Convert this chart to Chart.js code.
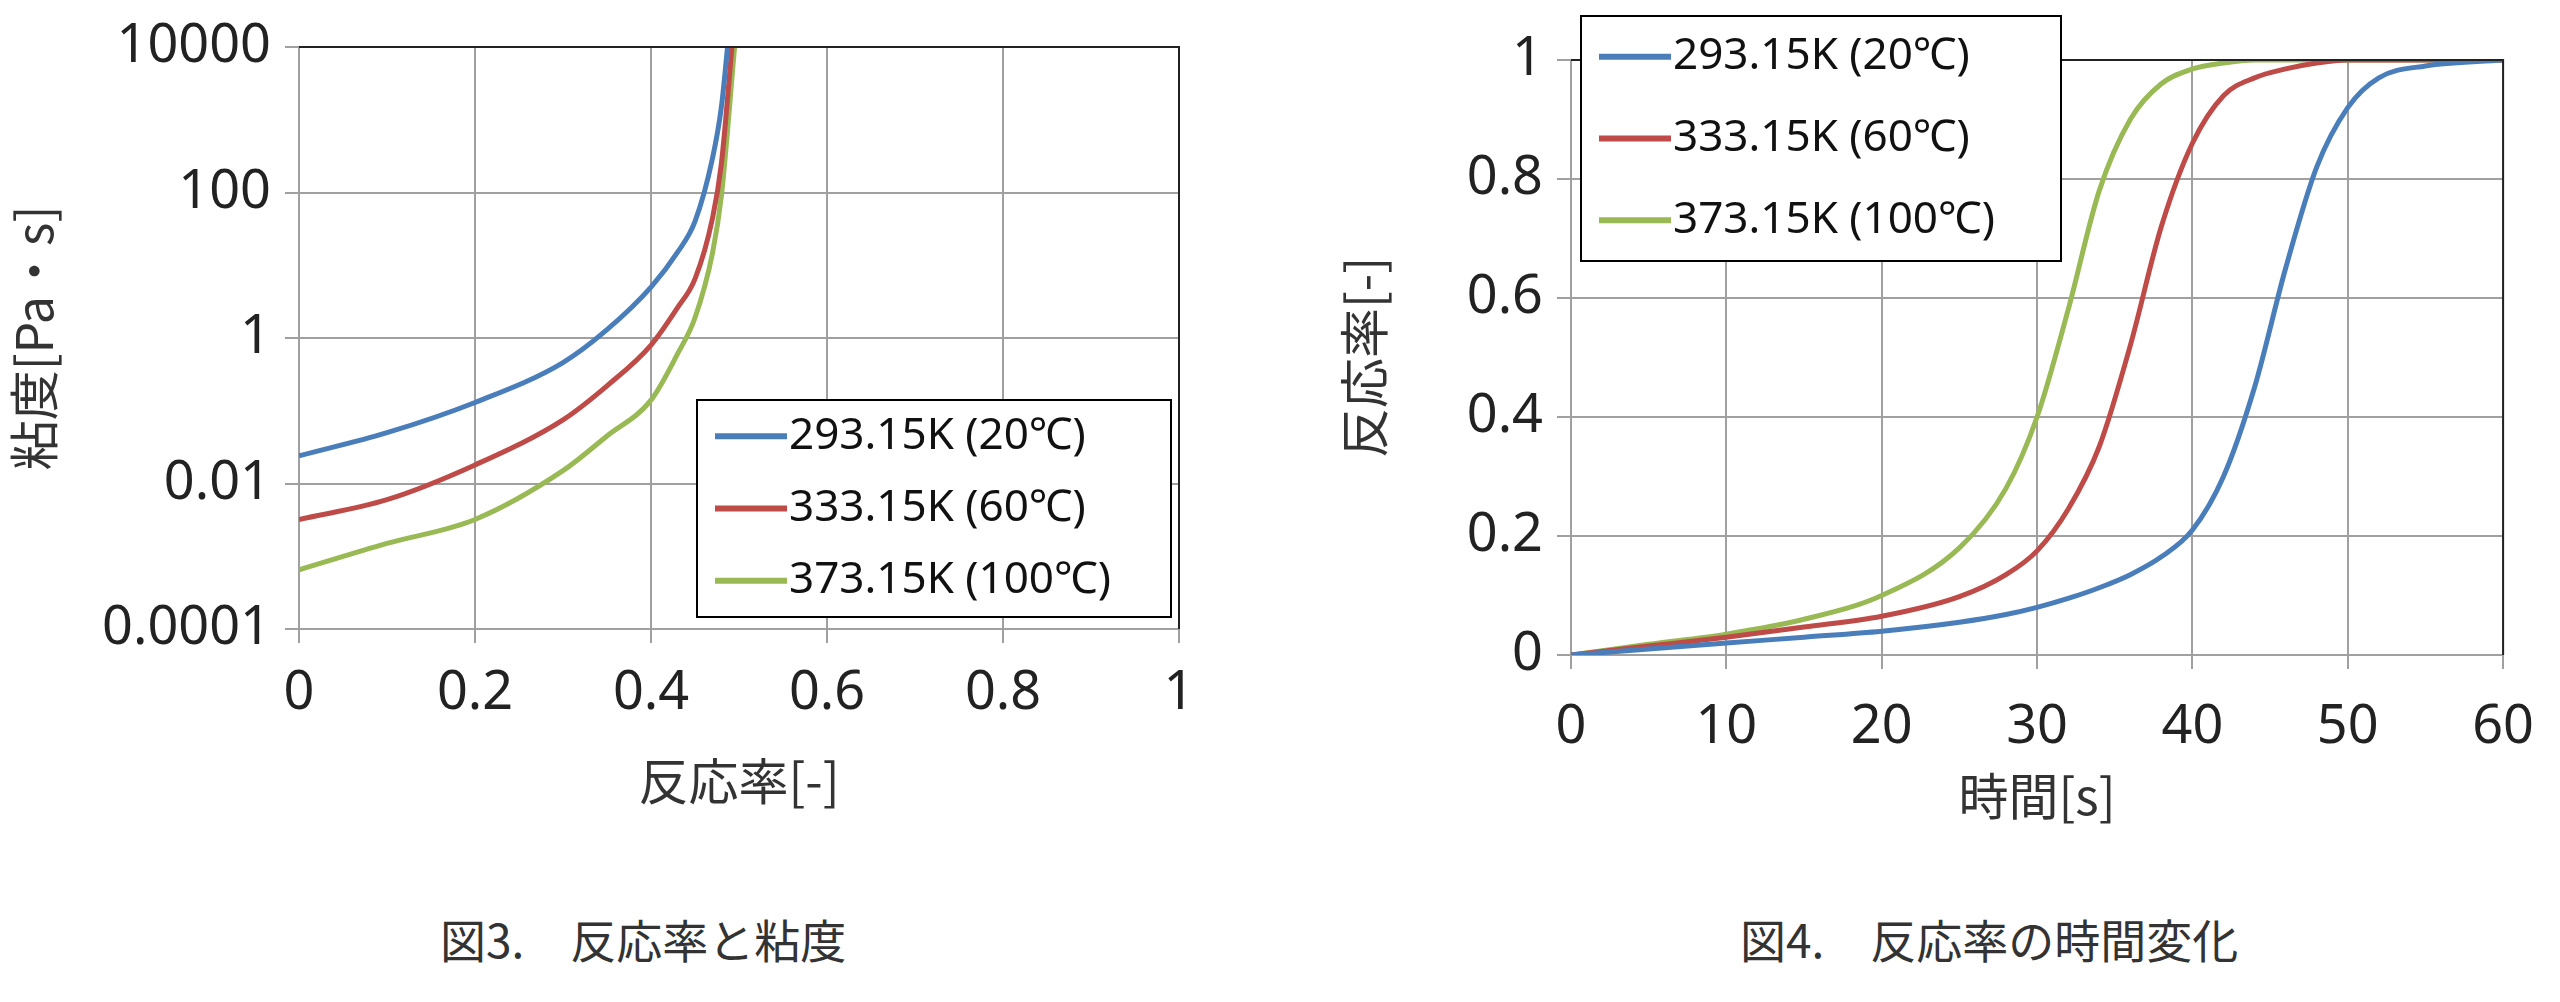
<!DOCTYPE html>
<html><head><meta charset="utf-8">
<script src="https://cdn.jsdelivr.net/npm/chart.js@4/dist/chart.umd.min.js"></script>
<style>
body{margin:0;width:2560px;height:1002px;background:#fff;position:relative;overflow:hidden;font-family:"Noto Sans CJK JP","Noto Sans",sans-serif}
#c1{position:absolute;left:0;top:0}
#c2{position:absolute;left:1330px;top:0}
.cap{position:absolute;top:905px;font-size:46px;color:#333;white-space:pre}
</style></head><body>
<canvas id="c1" width="1250" height="815"></canvas>
<canvas id="c2" width="1230" height="830"></canvas>
<div class="cap" style="left:440px">図3.　反応率と粘度</div>
<div class="cap" style="left:1740px">図4.　反応率の時間変化</div>
<script>
const seriesLabels = ['293.15K (20\u2103)', '333.15K (60\u2103)', '373.15K (100\u2103)'];
const colors = ['#4a7ebb', '#be4b48', '#98b954'];

// 図3: 反応率 vs 粘度 (log)
const conv1X = [[0,0.1,0.2,0.3,0.35,0.4,0.43,0.45,0.47,0.48,0.487],
                [0,0.1,0.2,0.3,0.35,0.4,0.43,0.45,0.47,0.48,0.492],
                [0,0.1,0.2,0.3,0.35,0.4,0.43,0.45,0.47,0.48,0.495]];
const viscBlue  = [0.024,0.05,0.13,0.46,1.3,5,15,40,300,1500,10000];
const viscRed   = [0.0032,0.006,0.018,0.075,0.22,0.8,2.6,6.5,45,250,10000];
const viscGreen = [0.00065,0.0015,0.0032,0.015,0.045,0.14,0.6,1.9,15,90,10000];
const logTicks = [0.0001,0.01,1,100,10000];

// 図4: 時間 vs 反応率
const timeX = [0,5,10,15,20,25,28,30,32,34,36,38,40,42,44,46,48,50,52,55,60];
const convBlue  = [0,0.01,0.02,0.03,0.04,0.055,0.068,0.08,0.095,0.113,0.135,0.165,0.21,0.3,0.45,0.65,0.82,0.92,0.97,0.99,1];
const convRed   = [0,0.015,0.03,0.047,0.065,0.098,0.135,0.175,0.245,0.35,0.52,0.72,0.86,0.94,0.97,0.985,0.995,1,1,1,1];
const convGreen = [0,0.018,0.035,0.06,0.1,0.18,0.28,0.4,0.58,0.78,0.9,0.96,0.985,0.995,1,1,1,1,1,1,1];

const tickFont = {family:'"Noto Sans","Open Sans",sans-serif', size:54};
const titleFont = {family:'"Noto Sans CJK JP",sans-serif', size:50};

function legendBox(box){
  return {id:'boxLegend', afterDatasetsDraw(chart){
    const c = chart.ctx;
    c.save();
    c.fillStyle='#fff'; c.fillRect(box.x,box.y,box.w,box.h);
    c.strokeStyle='#000'; c.lineWidth=2; c.strokeRect(box.x,box.y,box.w,box.h);
    c.font='44px "Noto Sans","Open Sans",sans-serif'; c.textBaseline='middle'; c.fillStyle='#111';
    chart.data.datasets.forEach((ds,i)=>{
      const yy = box.y + box.h*(i+0.5)/3;
      c.strokeStyle=ds.borderColor; c.lineWidth=6;
      c.beginPath(); c.moveTo(box.x+18,yy); c.lineTo(box.x+90,yy); c.stroke();
      c.fillText(ds.label, box.x+92, yy);
    });
    c.restore();
  }};
}
const frame = {id:'frame', afterDatasetsDraw(chart){
  const a=chart.chartArea, c=chart.ctx;
  c.save(); c.strokeStyle='#222'; c.lineWidth=2;
  c.beginPath(); c.moveTo(a.left,a.top); c.lineTo(a.right,a.top); c.lineTo(a.right,a.bottom); c.stroke(); c.restore();
}};

function mkSets(xs, ys){
  return ys.map((arr,i)=>({label:seriesLabels[i], borderColor:colors[i], backgroundColor:colors[i],
    data:arr.map((v,j)=>({x:(Array.isArray(xs[0])?xs[i]:xs)[j], y:v})),
    borderWidth:5, pointRadius:0, cubicInterpolationMode:'monotone', fill:false}));
}
const grid = {color:'#a0a0a0', lineWidth:2, drawTicks:true, tickLength:14};

new Chart(document.getElementById('c1'), {
  type:'line',
  data:{datasets:mkSets(conv1X,[viscBlue,viscRed,viscGreen])},
  options:{responsive:false, animation:false,
    layout:{padding:{top:47,right:71}},
    plugins:{legend:{display:false}, tooltip:{enabled:false}},
    scales:{
      x:{type:'linear', min:0, max:1, ticks:{stepSize:0.2, font:tickFont, color:'#222', padding:18,
           callback:v=>String(Number(v.toFixed(1)))},
         grid:grid, border:{color:'#a0a0a0', width:2},
         title:{display:true, text:'反応率[-]', font:titleFont, color:'#333'},
         afterFit:s=>{s.height=186;}},
      y:{type:'logarithmic', min:0.0001, max:10000,
         afterBuildTicks:s=>{s.ticks=logTicks.map(v=>({value:v}));},
         ticks:{font:tickFont, color:'#222', padding:14, callback:v=>String(v)},
         grid:grid, border:{color:'#a0a0a0', width:2},
         title:{display:true, text:'粘度[Pa・s]', font:titleFont, color:'#333'},
         afterFit:s=>{s.width=299;}}
    }},
  plugins:[frame, legendBox({x:697,y:400,w:474,h:217})]
});

new Chart(document.getElementById('c2'), {
  type:'line',
  data:{datasets:mkSets(timeX,[convBlue,convRed,convGreen])},
  options:{responsive:false, animation:false,
    layout:{padding:{top:60,right:53}},
    plugins:{legend:{display:false}, tooltip:{enabled:false}},
    scales:{
      x:{type:'linear', min:0, max:60, ticks:{stepSize:10, font:tickFont, color:'#222', padding:26},
         grid:grid, border:{color:'#a0a0a0', width:2},
         title:{display:true, text:'時間[s]', font:titleFont, color:'#333'},
         afterFit:s=>{s.height=175;}},
      y:{type:'linear', min:0, max:1, ticks:{stepSize:0.2, font:tickFont, color:'#222', padding:14,
           callback:v=>String(Number(v.toFixed(1)))},
         grid:grid, border:{color:'#a0a0a0', width:2},
         title:{display:true, text:'反応率[-]', font:titleFont, color:'#333'},
         afterFit:s=>{s.width=241;}}
    }},
  plugins:[frame, legendBox({x:251,y:16,w:480,h:245})]
});
</script>
</body></html>
